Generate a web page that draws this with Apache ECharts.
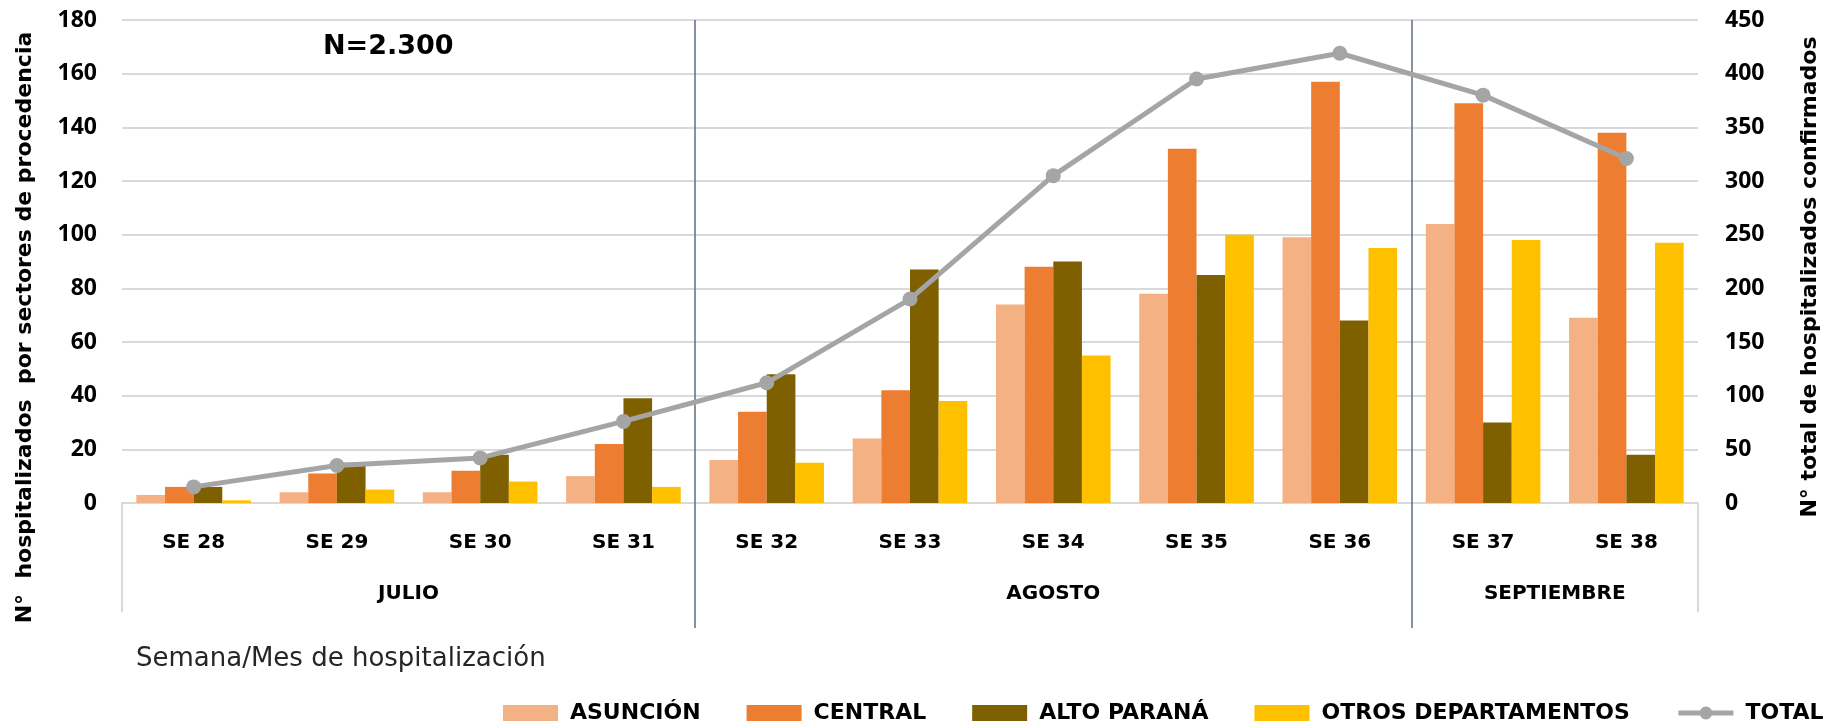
<!DOCTYPE html>
<html>
<head>
<meta charset="utf-8">
<script src="https://cdn.jsdelivr.net/npm/echarts@6/dist/echarts.min.js"></script>
<style>
  html, body { margin: 0; padding: 0; background: #fff; }
  #chart { width: 1834px; height: 723px; }
</style>
</head>
<body>
<div id="chart"></div>
<script>
// ---- Data ----
const weeks = ['SE 28', 'SE 29', 'SE 30', 'SE 31', 'SE 32', 'SE 33', 'SE 34', 'SE 35', 'SE 36', 'SE 37', 'SE 38'];
const asuncion   = [3, 4, 4, 10, 16, 24, 74, 78, 99, 104, 69];
const central    = [6, 11, 12, 22, 34, 42, 88, 132, 157, 149, 138];
const altoParana = [6, 15, 18, 39, 48, 87, 90, 85, 68, 30, 18];
const otros      = [1, 5, 8, 6, 15, 38, 55, 100, 95, 98, 97];
const total      = [15, 35, 42, 76, 112, 190, 305, 395, 419, 380, 321];
const months     = ['JULIO', 'AGOSTO', 'SEPTIEMBRE'];
const monthSpans = [4, 5, 2];
const leftTicks  = { min: 0, max: 180, interval: 20 };
const rightTicks = { min: 0, max: 450, interval: 50 };

// derived month boundaries / centres (in category units)
const boundaries = [];
const centres = [];
let acc = 0;
monthSpans.forEach((s, i) => {
  centres.push(acc + s / 2);
  acc += s;
  if (i < monthSpans.length - 1) boundaries.push(acc);
});
const nCat = weeks.length;

const FONT = 'DejaVu Sans';
const TICKFONT = 'Open Sans';
const sepColor = '#5E6E82';
const gridColor = '#D9D9D9';

const chart = echarts.init(document.getElementById('chart'), null, { renderer: 'canvas' });

function barSeries(name, data, color) {
  return {
    name, type: 'bar', data, xAxisIndex: 0, yAxisIndex: 0,
    barGap: '0%', barCategoryGap: '20%',
    itemStyle: { color },
    z: 2
  };
}

const option = {
  animation: false,
  backgroundColor: '#fff',
  grid: { left: 122, right: 136, top: 20, bottom: 220, containLabel: false },
  legend: {
    data: [
      { name: 'ASUNCIÓN', icon: 'rect' },
      { name: 'CENTRAL', icon: 'rect' },
      { name: 'ALTO PARANÁ', icon: 'rect' },
      { name: 'OTROS DEPARTAMENTOS', icon: 'rect' },
      { name: 'TOTAL', lineStyle: { width: 5 } }
    ],
    left: 503, top: 702, padding: 0, width: 1331,
    itemWidth: 55, itemHeight: 16, itemGap: 46,
    textStyle: { fontFamily: FONT, fontWeight: 'bold', fontSize: 22, color: '#000', padding: [0, 0, 0, 7] }
  },
  graphic: [
    { type: 'text', left: 323, top: 33, style: { text: 'N=2.300', font: 'bold 27px "DejaVu Sans"', fill: '#000' } },
    { type: 'text', left: 136, top: 646, style: { text: 'Semana/Mes de hospitalización', font: '26px "DejaVu Sans"', fill: '#262626' } }
  ],
  xAxis: [
    {
      type: 'category', data: weeks, position: 'bottom',
      axisLine: { lineStyle: { color: gridColor, width: 2 } },
      axisTick: { show: false },
      axisLabel: { fontFamily: FONT, fontWeight: 'bold', fontSize: 20, color: '#000', margin: 30 }
    },
    {
      type: 'value', min: 0, max: nCat, position: 'bottom',
      axisLine: { show: false },
      splitLine: { show: false },
      axisTick: { show: true, customValues: boundaries, length: 125, lineStyle: { color: sepColor, width: 1.5 } },
      axisLabel: {
        show: true, customValues: centres, margin: 81,
        fontFamily: FONT, fontWeight: 'bold', fontSize: 20, color: '#000',
        formatter: (v) => { const i = centres.findIndex(c => Math.abs(c - v) < 1e-6); return i >= 0 ? months[i] : ''; }
      }
    },
    {
      type: 'value', min: 0, max: nCat, position: 'bottom',
      axisLine: { show: false },
      splitLine: { show: false },
      axisTick: { show: true, customValues: [0, nCat], length: 109, lineStyle: { color: gridColor, width: 2 } },
      axisLabel: { show: false }
    }
  ],
  yAxis: [
    {
      type: 'value', min: leftTicks.min, max: leftTicks.max, interval: leftTicks.interval, position: 'left',
      name: 'N°  hospitalizados  por sectores de procedencia',
      nameLocation: 'middle', nameGap: 86, nameRotate: 90,
      nameTextStyle: { fontFamily: FONT, fontWeight: 'bold', fontSize: 22, color: '#000', padding: [0, 132, 0, 0] },
      axisLine: { show: false }, axisTick: { show: false },
      axisLabel: { fontFamily: TICKFONT, fontWeight: 'bold', fontSize: 23, color: '#000', margin: 25 },
      splitLine: { lineStyle: { color: gridColor, width: 2 } }
    },
    {
      type: 'value', min: rightTicks.min, max: rightTicks.max, interval: rightTicks.interval, position: 'right',
      name: 'N° total de hospitalizados confirmados',
      nameLocation: 'middle', nameGap: 101, nameRotate: 90,
      nameTextStyle: { fontFamily: FONT, fontWeight: 'bold', fontSize: 22, color: '#000', padding: [0, 31, 0, 0] },
      axisLine: { show: false }, axisTick: { show: false },
      axisLabel: { fontFamily: TICKFONT, fontWeight: 'bold', fontSize: 23, color: '#000', margin: 27 },
      splitLine: { show: false }
    }
  ],
  series: [
    barSeries('ASUNCIÓN', asuncion, '#F4B183'),
    barSeries('CENTRAL', central, '#ED7D31'),
    barSeries('ALTO PARANÁ', altoParana, '#7F6000'),
    barSeries('OTROS DEPARTAMENTOS', otros, '#FFC000'),
    {
      name: 'TOTAL', type: 'line', data: total, xAxisIndex: 0, yAxisIndex: 1,
      symbol: 'circle', symbolSize: 15,
      lineStyle: { color: '#A5A5A5', width: 5 },
      itemStyle: { color: '#A5A5A5' },
      z: 5
    },
    {
      name: 'sep', type: 'line', xAxisIndex: 1, yAxisIndex: 0, data: [],
      markLine: {
        silent: true, symbol: 'none', label: { show: false },
        lineStyle: { color: sepColor, width: 1.5, type: 'solid' },
        data: boundaries.map(b => ({ xAxis: b }))
      },
      z: 3
    }
  ]
};
chart.setOption(option);
</script>
</body>
</html>
